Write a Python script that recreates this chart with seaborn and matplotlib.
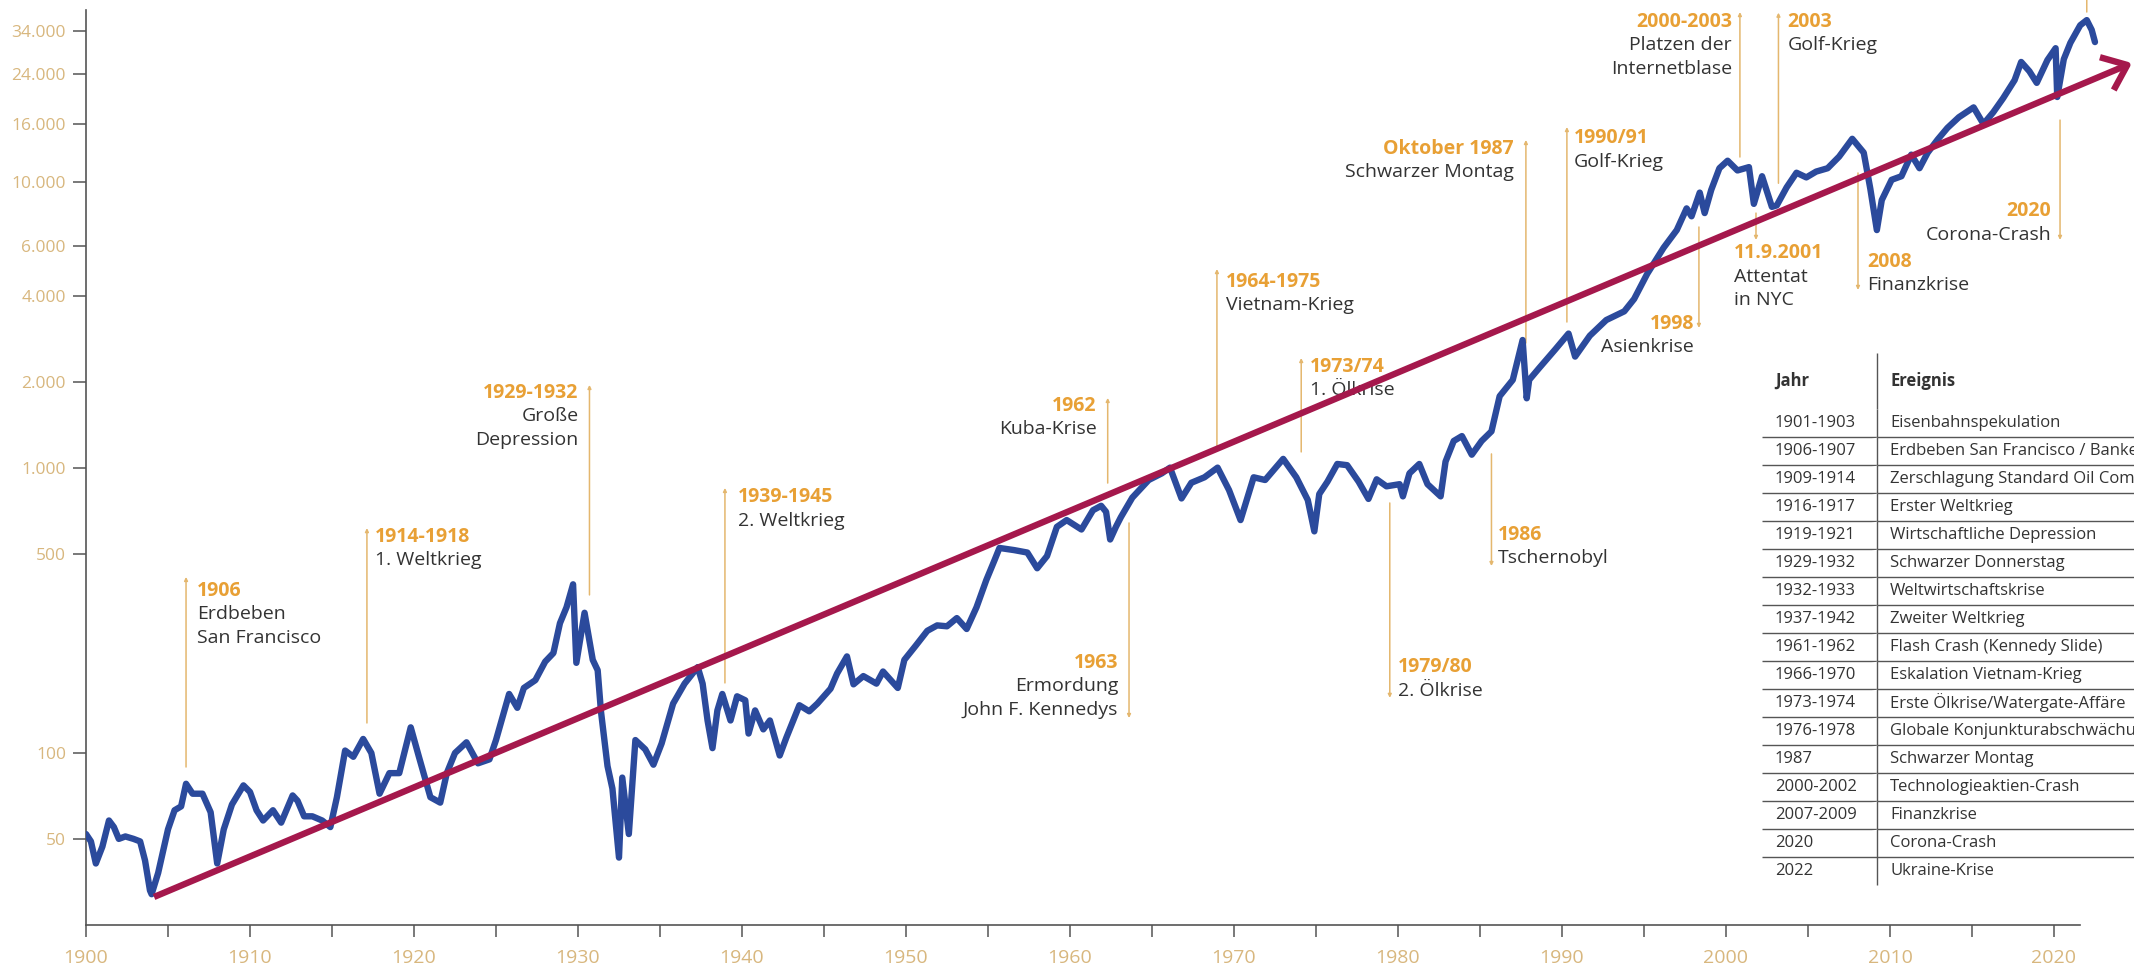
import seaborn as sns
import matplotlib.pyplot as plt
import pandas as pd


# Dow Jones points (decimal year, index points)
years = [1900.0, 1900.3, 1900.6, 1901.0, 1901.4, 1901.7, 1902.0, 1902.4, 1902.9, 1903.3,
         1903.6, 1903.9, 1904.0, 1904.4, 1905.0, 1905.4, 1905.8, 1906.1, 1906.5, 1907.1,
         1907.6, 1908.0, 1908.4, 1908.9, 1909.6, 1910.0, 1910.4, 1910.8, 1911.4, 1911.9,
         1912.6, 1912.9, 1913.3, 1913.8, 1914.4, 1914.9, 1915.3, 1915.8, 1916.3, 1916.9,
         1917.4, 1917.9, 1918.5, 1919.1, 1919.8, 1920.3, 1921.0, 1921.6, 1922.0, 1922.5,
         1923.2, 1923.9, 1924.6, 1925.0, 1925.8, 1926.3, 1926.7, 1927.4, 1928.0, 1928.5,
         1928.9, 1929.3, 1929.7, 1929.9, 1930.4, 1930.9, 1931.2, 1931.4, 1931.8, 1932.1,
         1932.5, 1932.7, 1933.1, 1933.5, 1934.1, 1934.6, 1935.1, 1935.8, 1936.5, 1937.3,
         1937.6, 1937.9, 1938.2, 1938.5, 1938.8, 1939.3, 1939.7, 1940.2, 1940.4, 1940.8,
         1941.3, 1941.7, 1942.3, 1942.7, 1943.5, 1944.1, 1944.6, 1945.4, 1945.8, 1946.4,
         1946.8, 1947.4, 1948.2, 1948.6, 1949.5, 1949.9, 1950.6, 1951.3, 1951.9, 1952.5,
         1953.1, 1953.7, 1954.3, 1954.9, 1955.4, 1955.7, 1956.6, 1957.4, 1958.0, 1958.6,
         1959.2, 1959.8, 1960.7, 1961.4, 1961.9, 1962.2, 1962.45, 1962.8, 1963.1, 1963.8,
         1964.8, 1965.6, 1966.1, 1966.8, 1967.4, 1968.2, 1969.0, 1969.7, 1970.4, 1971.2,
         1971.9, 1973.0, 1973.8, 1974.5, 1974.9, 1975.2, 1975.7, 1976.3, 1976.9, 1977.6,
         1978.2, 1978.7, 1979.3, 1980.1, 1980.3, 1980.7, 1981.3, 1981.8, 1982.6, 1982.9,
         1983.4, 1983.9, 1984.5, 1985.1, 1985.7, 1986.2, 1987.0, 1987.6, 1987.85, 1988.0,
         1988.6, 1989.6, 1990.4, 1990.8, 1991.7, 1992.7, 1993.8, 1994.4, 1995.2, 1996.2,
         1997.0, 1997.6, 1997.9, 1998.4, 1998.7, 1999.1, 1999.6, 2000.1, 2000.7, 2001.4,
         2001.7, 2002.2, 2002.8, 2003.1, 2003.7, 2004.3, 2004.9, 2005.5, 2006.2, 2006.9,
         2007.7, 2008.4, 2008.8, 2009.2, 2009.5, 2010.1, 2010.7, 2011.3, 2011.8, 2012.3,
         2012.9, 2013.5, 2014.2, 2015.1, 2015.7, 2016.3, 2016.9, 2017.6, 2018.0, 2018.5,
         2018.95, 2019.6, 2020.1, 2020.2, 2020.6, 2021.0, 2021.6, 2022.0, 2022.3, 2022.5]
points = [52, 49, 41, 47, 58, 55, 50, 51, 50, 49,
          42, 33, 32, 38, 54, 63, 65, 78, 72, 72,
          62, 41, 54, 66, 77, 73, 63, 58, 63, 57,
          71, 68, 60, 60, 58, 55, 70, 102, 97, 112,
          100, 72, 85, 85, 123, 97, 70, 67, 85, 100,
          109, 92, 95, 111, 161, 144, 169, 180, 209, 224,
          285, 324, 390, 207, 310, 212, 195, 140, 90, 75,
          43, 82, 52, 111, 103, 91, 108, 149, 175, 200,
          175, 130, 104, 141, 161, 130, 158, 153, 117, 141,
          121, 130, 98, 113, 147, 140, 149, 168, 190, 218,
          174, 186, 175, 193, 169, 212, 238, 268, 280, 278,
          297, 272, 324, 404, 474, 523, 514, 504, 444, 490,
          620, 655, 607, 709, 735, 700, 560, 620, 670, 785,
          905, 955, 1000, 780, 885, 925, 1000, 834, 655, 925,
          905, 1073, 925, 770, 598, 808, 893, 1030, 1020, 893,
          777, 910, 860, 875, 793, 955, 1030, 875, 793, 1050,
          1240, 1290, 1110, 1240, 1340, 1780, 2030, 2800, 1750, 2030,
          2230, 2600, 2950, 2450, 2900, 3290, 3530, 3900, 4780, 5900,
          6800, 8100, 7600, 9200, 7800, 9400, 11200, 11900, 11000, 11300,
          8400, 10500, 8200, 8300, 9600, 10800, 10400, 10900, 11200, 12300,
          14200, 12700, 9500, 6800, 8660, 10200, 10500, 12500, 11200, 12700,
          14100, 15500, 16900, 18300, 16000, 17600, 19700, 22800, 26400, 24500,
          22300, 26800, 29500, 19900, 27000, 30800, 35500, 37000, 34200, 31000]

# long-term trend arrow (year, points)
trend_start = (1904.15, 31.3)
trend_end = (2024.76, 26180)

y_ticks = [50, 100, 500, 1000, 2000, 4000, 6000, 10000, 16000, 24000, 34000]
y_tick_labels = ["50", "100", "500", "1.000", "2.000", "4.000", "6.000",
                 "10.000", "16.000", "24.000", "34.000"]
x_ticks = list(range(1900, 2021, 5))
x_tick_labels = [str(t) if t % 10 == 0 else "" for t in x_ticks]

event_titles = ["1906", "1914-1918", "1929-1932", "1939-1945", "1962", "1963",
                "1964-1975", "1973/74", "1979/80", "1986", "Oktober 1987", "1990/91",
                "1998", "2000-2003", "2003", "11.9.2001", "2008", "2020"]
event_texts = [["Erdbeben", "San Francisco"], ["1. Weltkrieg"], ["Große", "Depression"],
               ["2. Weltkrieg"], ["Kuba-Krise"], ["Ermordung", "John F. Kennedys"],
               ["Vietnam-Krieg"], ["1. Ölkrise"], ["2. Ölkrise"], ["Tschernobyl"],
               ["Schwarzer Montag"], ["Golf-Krieg"], ["Asienkrise"],
               ["Platzen der", "Internetblase"], ["Golf-Krieg"], ["Attentat", "in NYC"],
               ["Finanzkrise"], ["Corona-Crash"]]

table_years = ["1901-1903", "1906-1907", "1909-1914", "1916-1917", "1919-1921",
               "1929-1932", "1932-1933", "1937-1942", "1961-1962", "1966-1970",
               "1973-1974", "1976-1978", "1987", "2000-2002", "2007-2009", "2020", "2022"]
table_events = ["Eisenbahnspekulation", "Erdbeben San Francisco / Bankenpanik",
                "Zerschlagung Standard Oil Company", "Erster Weltkrieg",
                "Wirtschaftliche Depression", "Schwarzer Donnerstag",
                "Weltwirtschaftskrise", "Zweiter Weltkrieg", "Flash Crash (Kennedy Slide)",
                "Eskalation Vietnam-Krieg", "Erste Ölkrise/Watergate-Affäre",
                "Globale Konjunkturabschwächung", "Schwarzer Montag",
                "Technologieaktien-Crash", "Finanzkrise", "Corona-Crash", "Ukraine-Krise"]

# layout of the callouts: line x (year), line top, line bottom (points),
# arrow head end, text dx (px), text alignment, value at the title line
event_layout = [
    (1906.1, 414, 89.3, "up", 11, "left", 370),
    (1917.13, 614, 127.4, "up", 8, "left", 572),
    (1930.7, 1949, 358, "up", -11, "right", 1827),
    (1938.96, 849, 176, "up", 13, "left", 789),
    (1962.3, 1755, 883, "up", -11, "right", 1645),
    (1963.6, 640, 132.6, "down", -11, "right", 207),
    (1968.96, 4966, 1181, "up", 9, "left", 4473),
    (1974.1, 2422, 1135, "up", 9, "left", 2254),
    (1979.5, 752, 156, "down", 8, "left", 200),
    (1985.7, 1117, 452, "down", 6, "left", 581),
    (1987.8, 14070, 2734, "up", -12, "right", 13080),
    (1990.3, 15620, 3238, "up", 7, "left", 14290),
    (1998.35, 6970, 3087, "down", -5, "right", 3188),
    (2000.85, 39500, 12260, "up", -8, "right", 36450),
    (2003.2, 39300, 9920, "up", 9, "left", 36450),
    (2001.83, 7800, 6280, "down", -22, "left", 5650),
    (2008.05, 10780, 4194, "down", 9, "left", 5257),
    (2020.37, 16520, 6280, "down", -9, "right", 7925),
]

BLUE = "#2B4A9C"
RED = "#A5184C"
ORANGE = "#E8A035"
LINE = "#E4B76E"
TICKTXT = "#D8B77E"
DARK = "#333333"
AXIS = "#555555"
PX = 72 / 100  # one pixel in points at dpi 100

sns.set_theme(style="white")
plt.rcParams["font.family"] = ["Open Sans", "DejaVu Sans"]

W, H = 2134, 966
fig = plt.figure(figsize=(W / 100, H / 100), dpi=100)
fig.patch.set_facecolor("white")
ax = fig.add_axes([86 / W, (H - 925) / H, (W - 86) / W, 915 / H])

df = pd.DataFrame({"year": years, "points": points})
sns.lineplot(data=df, x="year", y="points", ax=ax, color=BLUE, lw=4.6,
             estimator=None, sort=True, zorder=3)

ax.set_yscale("log")
ax.set_xlim(1900, 2024.88)
ax.set_ylim(24.96, 40150)
ax.set_xlabel("")
ax.set_ylabel("")

ax.set_yticks(y_ticks)
ax.set_yticklabels(y_tick_labels)
ax.yaxis.set_minor_locator(plt.NullLocator())
ax.set_xticks(x_ticks)
ax.set_xticklabels(x_tick_labels)

for side in ("top", "right"):
    ax.spines[side].set_visible(False)
for side in ("left", "bottom"):
    ax.spines[side].set_color(AXIS)
    ax.spines[side].set_linewidth(1.2)
ax.spines["bottom"].set_bounds(1900, 2021.6)

ax.tick_params(axis="x", direction="out", length=8.6, width=1.1, color=AXIS,
               pad=9, labelsize=14, labelcolor=TICKTXT, bottom=True)
ax.tick_params(axis="y", direction="out", length=9.4, width=1.1, color=AXIS,
               pad=5, labelsize=12.5, labelcolor=TICKTXT, left=True)

# trend arrow
ax.annotate("", xy=trend_end, xytext=trend_start, annotation_clip=False,
            arrowprops=dict(arrowstyle="->,head_length=1.0,head_width=0.8",
                            color=RED, lw=4.6, mutation_scale=16,
                            shrinkA=0, shrinkB=0, capstyle="butt"),
            zorder=5)

# event callouts
for title, lines, lay in zip(event_titles, event_texts, event_layout):
    lx, top, bot, head, dx, ha, ty = lay
    tip, tail = ((lx, top), (lx, bot)) if head == "up" else ((lx, bot), (lx, top))
    ax.annotate("", xy=tip, xytext=tail, annotation_clip=False,
                arrowprops=dict(arrowstyle="-|>", color=LINE, lw=1.1,
                                mutation_scale=5, shrinkA=0, shrinkB=0),
                zorder=2)
    ax.annotate(title, xy=(lx, ty), xytext=(dx * PX, 0), textcoords="offset points",
                ha=ha, va="center", color=ORANGE, fontsize=14, fontweight="bold",
                zorder=4)
    for i, s in enumerate(lines):
        ax.annotate(s, xy=(lx, ty), xytext=(dx * PX, -(i + 1) * 23.5 * PX),
                    textcoords="offset points", ha=ha, va="center", color=DARK,
                    fontsize=14, zorder=4)

# short line above the 2022 peak (callout cut off at the top edge)
ax.annotate("", xy=(2022.0, 46000), xytext=(2022.0, 39500), annotation_clip=False,
            arrowprops=dict(arrowstyle="-", color=LINE, lw=1.1, shrinkA=0, shrinkB=0))

# event table, cut off at the right edge like the original
tx0, ty0, ty1 = 1762, 353, 885
tw = 600
tab_ax = fig.add_axes([tx0 / W, (H - ty1) / H, tw / W, (ty1 - ty0) / H])
tab_ax.axis("off")
cells = [[a, b] for a, b in zip(table_years, table_events)]
tab = tab_ax.table(cellText=cells, colLabels=["Jahr", "Ereignis"],
                   cellLoc="left", colLoc="left", bbox=[0, 0, 1, 1])
tab.auto_set_font_size(False)
tab.set_fontsize(12)
col_w = [115, tw - 115]
n = len(cells)
for (r, c), cell in tab.get_celld().items():
    cell.set_width(col_w[c])
    cell.set_height(56 if r == 0 else 28)
    cell.PAD = 13 / col_w[c]
    cell.set_edgecolor(AXIS)
    cell.set_linewidth(1.0)
    cell.get_text().set_color(DARK)
    if r == 0:
        cell.set_facecolor("#D9D9D9")
        cell.get_text().set_fontweight("bold")
        cell.visible_edges = "R" if c == 0 else ""
    else:
        cell.set_facecolor("white")
        edges = "" if r == n else "B"
        if c == 0:
            edges += "R"
        cell.visible_edges = edges

fig.savefig("out.png", dpi=100, facecolor="white")
